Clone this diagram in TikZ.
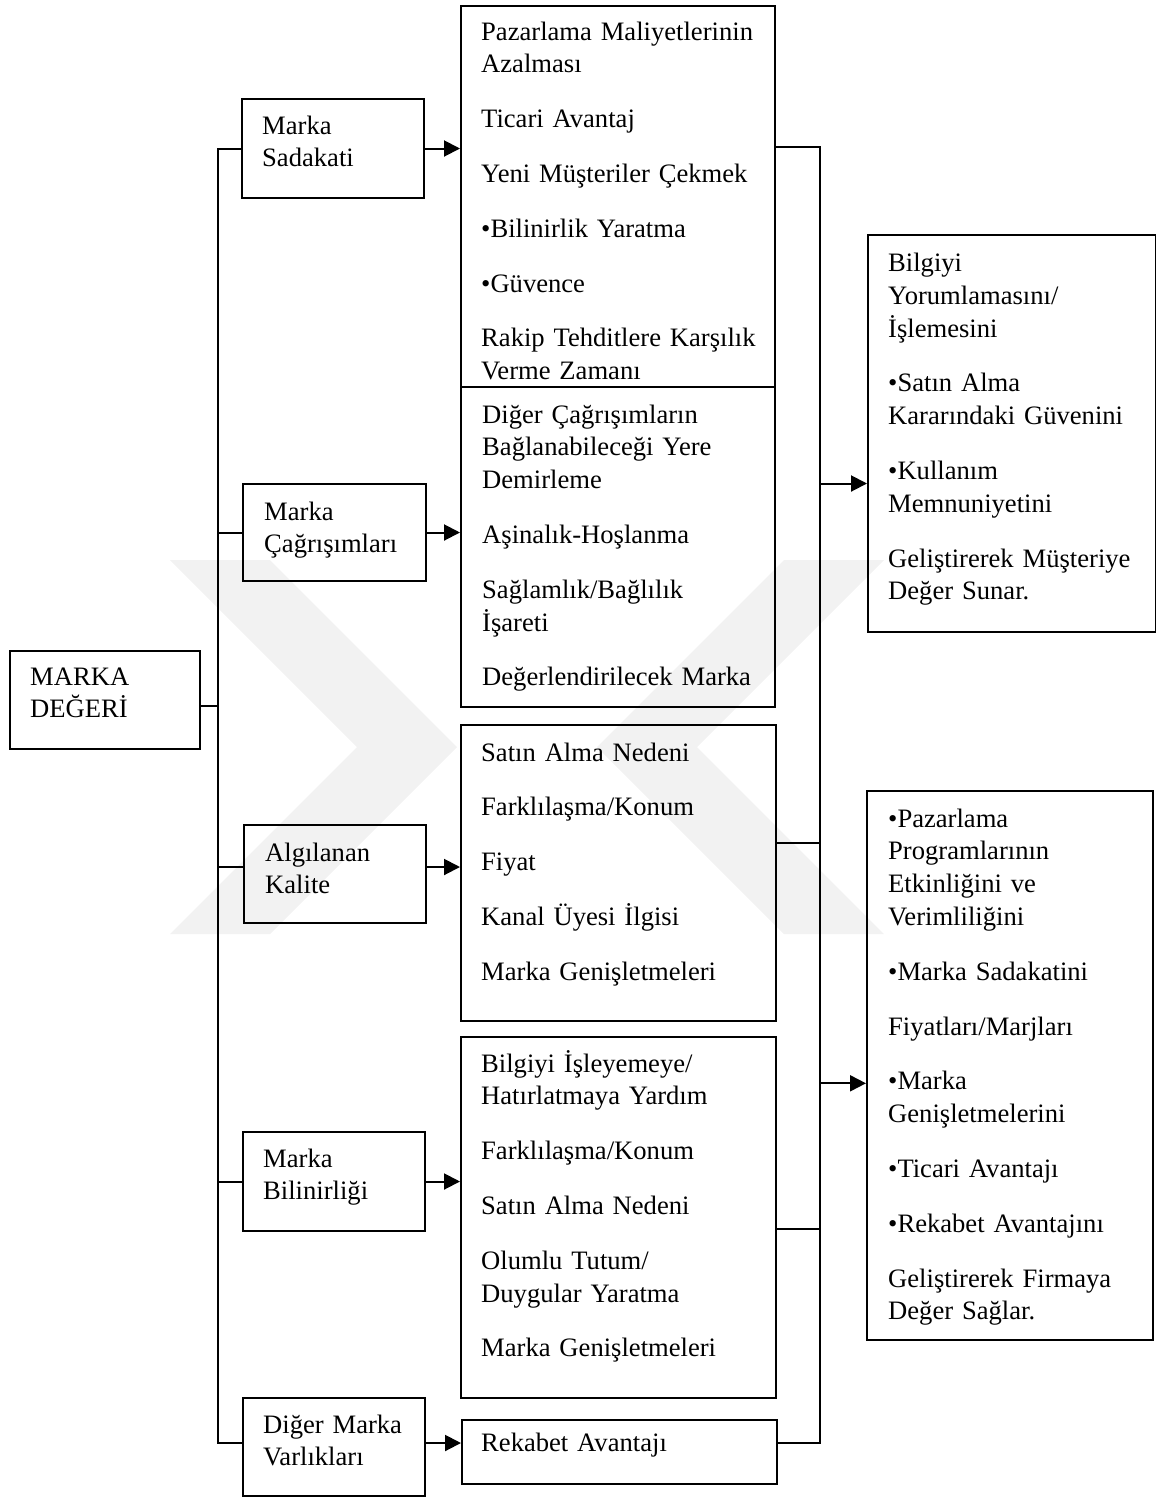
\documentclass[tikz,border=0pt]{standalone}
\usepackage{fontspec}
\setmainfont{Liberation Serif}
\usetikzlibrary{arrows.meta}

\tikzset{
  box/.style={draw, line width=2pt, rectangle, inner sep=0pt, anchor=north west},
  txt/.style={anchor=base west, inner sep=0pt, align=left, text width=300pt,
              font=\fontsize{26.6}{32.8}\selectfont},
  conn/.style={line width=2pt},
  arr/.style={conn, -{Triangle[length=16pt,width=16pt]}},
  wmark/.style={fill=black!5, draw=none},
}
% \mybox{name}{x1}{y1}{x2}{y2}: framed box between two corners
\newcommand\mybox[5]{%
  \node[box, minimum width={(#4-#2)*1pt}, minimum height={(#5-#3)*1pt}] (#1) at (#2,#3) {};}

\begin{document}
\begin{tikzpicture}[x=1pt, y=-1pt]
\useasboundingbox (0,0) rectangle (1156,1497);

% faint background emblem
\fill[wmark] (170,560) -- (270,560) -- (457,747) -- (270,934) -- (170,934) -- (357,747) -- cycle;
\fill[wmark] (884,560) -- (784,560) -- (597,747) -- (784,934) -- (884,934) -- (697,747) -- cycle;

% boxes
\mybox{MD}{9}{650}{199}{748}
\mybox{S1}{241}{98}{423}{197}
\mybox{S2}{242}{483}{425}{580}
\mybox{S3}{243}{824}{425}{922}
\mybox{S4}{242}{1131}{424}{1230}
\mybox{S5}{242}{1397}{424}{1495}
\mybox{A}{460}{5}{774}{386}
\mybox{B}{460}{386}{774}{706}
\mybox{C}{460}{724}{775}{1020}
\mybox{D}{460}{1036}{775}{1397}
\mybox{E}{461}{1419}{776}{1483}
\mybox{R1}{867}{234}{1155}{631}
\mybox{R2}{866}{790}{1152}{1339}

% texts
\node[txt] (tMD) at (30,685) {MARKA\\DEĞERİ};
\node[txt] (tS1) at (262,134) {Marka\\Sadakati};
\node[txt] (tS2) at (264,520) {Marka\\Çağrışımları};
\node[txt] (tS3) at (265,861) {Algılanan\\Kalite};
\node[txt] (tS4) at (263,1167) {Marka\\Bilinirliği};
\node[txt] (tS5) at (263,1433) {Diğer Marka\\Varlıkları};
\node[txt] (tA) at (481,40) {Pazarlama Maliyetlerinin\\Azalması\\[22pt]Ticari Avantaj\\[22pt]Yeni Müşteriler Çekmek\\[22pt]•Bilinirlik Yaratma\\[22pt]•Güvence\\[22pt]Rakip Tehditlere Karşılık\\Verme Zamanı};
\node[txt] (tB) at (482,423) {Diğer Çağrışımların\\Bağlanabileceği Yere\\Demirleme\\[22pt]Aşinalık-Hoşlanma\\[22pt]Sağlamlık/Bağlılık\\İşareti\\[22pt]Değerlendirilecek Marka};
\node[txt] (tC) at (481,761) {Satın Alma Nedeni\\[22pt]Farklılaşma/Konum\\[22pt]Fiyat\\[22pt]Kanal Üyesi İlgisi\\[22pt]Marka Genişletmeleri};
\node[txt] (tD) at (481,1072) {Bilgiyi İşleyemeye/\\Hatırlatmaya Yardım\\[22pt]Farklılaşma/Konum\\[22pt]Satın Alma Nedeni\\[22pt]Olumlu Tutum/\\Duygular Yaratma\\[22pt]Marka Genişletmeleri};
\node[txt] (tE) at (481,1451) {Rekabet Avantajı};
\node[txt] (tR1) at (888,271.5) {Bilgiyi\\Yorumlamasını/\\İşlemesini\\[22pt]•Satın Alma\\Kararındaki Güvenini\\[22pt]•Kullanım\\Memnuniyetini\\[22pt]Geliştirerek Müşteriye\\Değer Sunar.};
\node[txt] (tR2) at (888,827) {•Pazarlama\\Programlarının\\Etkinliğini ve\\Verimliliğini\\[22pt]•Marka Sadakatini\\[22pt]Fiyatları/Marjları\\[22pt]•Marka\\Genişletmelerini\\[22pt]•Ticari Avantajı\\[22pt]•Rekabet Avantajını\\[22pt]Geliştirerek Firmaya\\Değer Sağlar.};

% bus positions and connector levels
\coordinate (lb) at (218,0);
\coordinate (rb) at (820,0);
\coordinate (yMD) at (0,706);
\coordinate (yS3) at (0,867);
\coordinate (yA) at (0,146.5);
\coordinate (yC) at (0,842.7);
\coordinate (yD) at (0,1229.3);
\coordinate (yE) at (0,1443);
\coordinate (yR1) at (0,483.5);
\coordinate (yR2) at (0,1083.3);

% left bus
\draw[conn] (S1.west) -- (S1.west -| lb) -- (lb |- yE) -- (S5.west |- yE);
\draw[conn] (S2.west) -- (S2.west -| lb);
\draw[conn] (S3.west |- yS3) -- (lb |- yS3);
\draw[conn] (S4.west) -- (S4.west -| lb);
\draw[conn] (MD.east |- yMD) -- (lb |- yMD);

% arrows into the middle column
\draw[arr] (S1.east) -- (S1.east -| A.west);
\draw[arr] (S2.east) -- (S2.east -| B.west);
\draw[arr] (S3.east |- yS3) -- (C.west |- yS3);
\draw[arr] (S4.east) -- (S4.east -| D.west);
\draw[arr] (S5.east |- yE) -- (E.west |- yE);

% right bus
\draw[conn] (A.east |- yA) -- (rb |- yA) -- (rb |- yE) -- (E.east |- yE);
\draw[conn] (C.east |- yC) -- (rb |- yC);
\draw[conn] (D.east |- yD) -- (rb |- yD);
\draw[arr] (rb |- yR1) -- (R1.west |- yR1);
\draw[arr] (rb |- yR2) -- (R2.west |- yR2);
\end{tikzpicture}
\end{document}
